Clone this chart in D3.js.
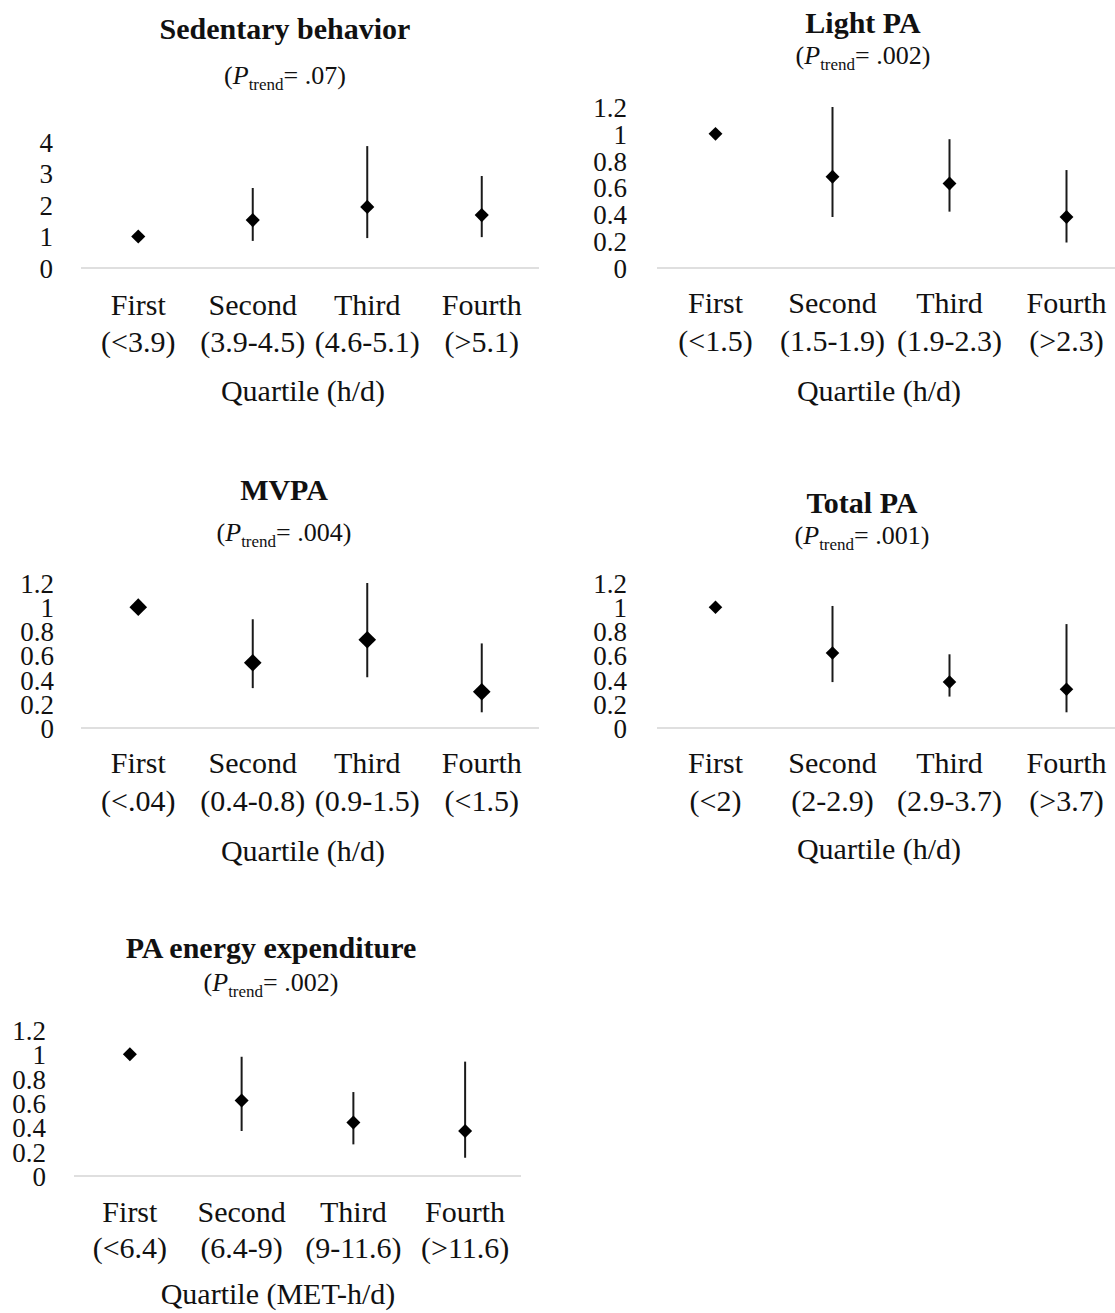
<!DOCTYPE html>
<html>
<head>
<meta charset="utf-8">
<script src="https://cdn.jsdelivr.net/npm/d3@7"></script>
<style>
  body { margin: 0; background: #fff; }
  text { font-family: "Liberation Serif", "Times New Roman", serif; fill: #111; }
</style>
</head>
<body>
<div id="container"></div>
<script>
// Odds ratios by activity quartile, five small panels

const quartiles = ["First", "Second", "Third", "Fourth"]
const titles = ["Sedentary behavior", "Light PA", "MVPA", "Total PA", "PA energy expenditure"]
const pTrend = [".07", ".002", ".004", ".001", ".002"]
const cutoffs = [
    ["(<3.9)", "(3.9-4.5)", "(4.6-5.1)", "(>5.1)"],
    ["(<1.5)", "(1.5-1.9)", "(1.9-2.3)", "(>2.3)"],
    ["(<.04)", "(0.4-0.8)", "(0.9-1.5)", "(<1.5)"],
    ["(<2)", "(2-2.9)", "(2.9-3.7)", "(>3.7)"],
    ["(<6.4)", "(6.4-9)", "(9-11.6)", "(>11.6)"],
]
const axisTitles = ["Quartile (h/d)", "Quartile (h/d)", "Quartile (h/d)", "Quartile (h/d)", "Quartile (MET-h/d)"]
const yTicks = [
    [0, 1, 2, 3, 4],
    [0, 0.2, 0.4, 0.6, 0.8, 1, 1.2],
    [0, 0.2, 0.4, 0.6, 0.8, 1, 1.2],
    [0, 0.2, 0.4, 0.6, 0.8, 1, 1.2],
    [0, 0.2, 0.4, 0.6, 0.8, 1, 1.2],
]
const estimate = [
    [1, 1.52, 1.94, 1.68],
    [1, 0.68, 0.63, 0.38],
    [1, 0.54, 0.73, 0.30],
    [1, 0.62, 0.38, 0.32],
    [1, 0.62, 0.44, 0.37],
]
const lower = [
    [1, 0.86, 0.95, 0.98],
    [1, 0.38, 0.42, 0.19],
    [1, 0.33, 0.42, 0.13],
    [1, 0.38, 0.26, 0.13],
    [1, 0.37, 0.26, 0.15],
]
const upper = [
    [1, 2.54, 3.87, 2.92],
    [1, 1.20, 0.96, 0.73],
    [1, 0.90, 1.20, 0.70],
    [1, 1.01, 0.61, 0.86],
    [1, 0.98, 0.69, 0.94],
]

// where each panel sits on the page
const layout = [
    { x0: 81, x1: 539, zero: 268, top: 142, tickX: 53, cx: 285, titleY: 39, subY: 84, catY: 315, catGap: 37, qx: 303, qy: 401, marker: 100 },
    { x0: 657, x1: 1125, zero: 268, top: 107, tickX: 627, cx: 863, titleY: 33, subY: 64, catY: 313, catGap: 38, qx: 879, qy: 401, marker: 96 },
    { x0: 81, x1: 539, zero: 728, top: 583, tickX: 54, cx: 284, titleY: 500, subY: 541, catY: 773, catGap: 38, qx: 303, qy: 861, marker: 155 },
    { x0: 657, x1: 1125, zero: 728, top: 583, tickX: 627, cx: 862, titleY: 513, subY: 544, catY: 773, catGap: 38, qx: 879, qy: 859, marker: 92 },
    { x0: 74, x1: 521, zero: 1176, top: 1030, tickX: 46, cx: 271, titleY: 958, subY: 991, catY: 1222, catGap: 36, qx: 278, qy: 1304, marker: 98 },
]

const width = 1115, height = 1313

const svg = d3.select("#container").append("svg")
    .attr("width", width)
    .attr("height", height)

titles.forEach((title, i) => {
    const L = layout[i]
    const g = svg.append("g").attr("class", "panel")

    const x = d3.scaleBand().domain(quartiles).range([L.x0, L.x1])
    const y = d3.scaleLinear().domain([0, d3.max(yTicks[i])]).range([L.zero, L.top])

    // title + p trend
    g.append("text")
        .attr("x", L.cx).attr("y", L.titleY)
        .attr("text-anchor", "middle")
        .style("font-size", "30px").style("font-weight", "bold")
        .text(title)

    const sub = g.append("text")
        .attr("x", L.cx).attr("y", L.subY)
        .attr("text-anchor", "middle")
        .style("font-size", "26px")
    sub.append("tspan").text("(")
    sub.append("tspan").style("font-style", "italic").text("P")
    sub.append("tspan").attr("dy", 6).style("font-size", "17px").text("trend")
    sub.append("tspan").attr("dy", -6).text("= " + pTrend[i] + ")")

    // y axis, labels only
    const yAxis = g.append("g")
        .attr("transform", `translate(${L.tickX},0)`)
        .call(d3.axisLeft(y).tickValues(yTicks[i]).tickSize(0).tickPadding(0).tickFormat(d => d))
    yAxis.select(".domain").remove()
    yAxis.selectAll("text")
        .attr("dy", "0.35em")
        .style("font-size", "27px")
        .style("font-family", "Liberation Serif, Times New Roman, serif")
        .attr("fill", "#111")

    // baseline
    g.append("line")
        .attr("x1", L.x0).attr("x2", L.x1)
        .attr("y1", y(0)).attr("y2", y(0))
        .attr("stroke", "#d4d4d4")
        .attr("stroke-width", 1.5)

    // category labels, two lines
    const cats = g.append("g")
        .selectAll("text")
        .data(quartiles)
        .enter()
        .append("text")
        .attr("text-anchor", "middle")
        .style("font-size", "30px")
    cats.append("tspan")
        .attr("x", d => x(d) + x.bandwidth() / 2)
        .attr("y", L.catY)
        .text(d => d)
    cats.append("tspan")
        .attr("x", d => x(d) + x.bandwidth() / 2)
        .attr("y", L.catY + L.catGap)
        .text((d, j) => cutoffs[i][j])

    g.append("text")
        .attr("x", L.qx).attr("y", L.qy)
        .attr("text-anchor", "middle")
        .style("font-size", "30px")
        .text(axisTitles[i])

    // error bars
    g.append("g")
        .selectAll("line")
        .data(quartiles)
        .enter()
        .append("line")
        .attr("x1", d => x(d) + x.bandwidth() / 2)
        .attr("x2", d => x(d) + x.bandwidth() / 2)
        .attr("y1", (d, j) => y(lower[i][j]))
        .attr("y2", (d, j) => y(upper[i][j]))
        .attr("stroke", "#1a1a1a")
        .attr("stroke-width", 2)

    // diamonds (square turned 45 degrees)
    const diamond = d3.symbol().type(d3.symbolSquare).size(L.marker)
    g.append("g")
        .selectAll("path")
        .data(quartiles)
        .enter()
        .append("path")
        .attr("d", diamond)
        .attr("transform", (d, j) => `translate(${x(d) + x.bandwidth() / 2},${y(estimate[i][j])}) rotate(45)`)
        .attr("fill", "#000")
})
</script>
</body>
</html>
